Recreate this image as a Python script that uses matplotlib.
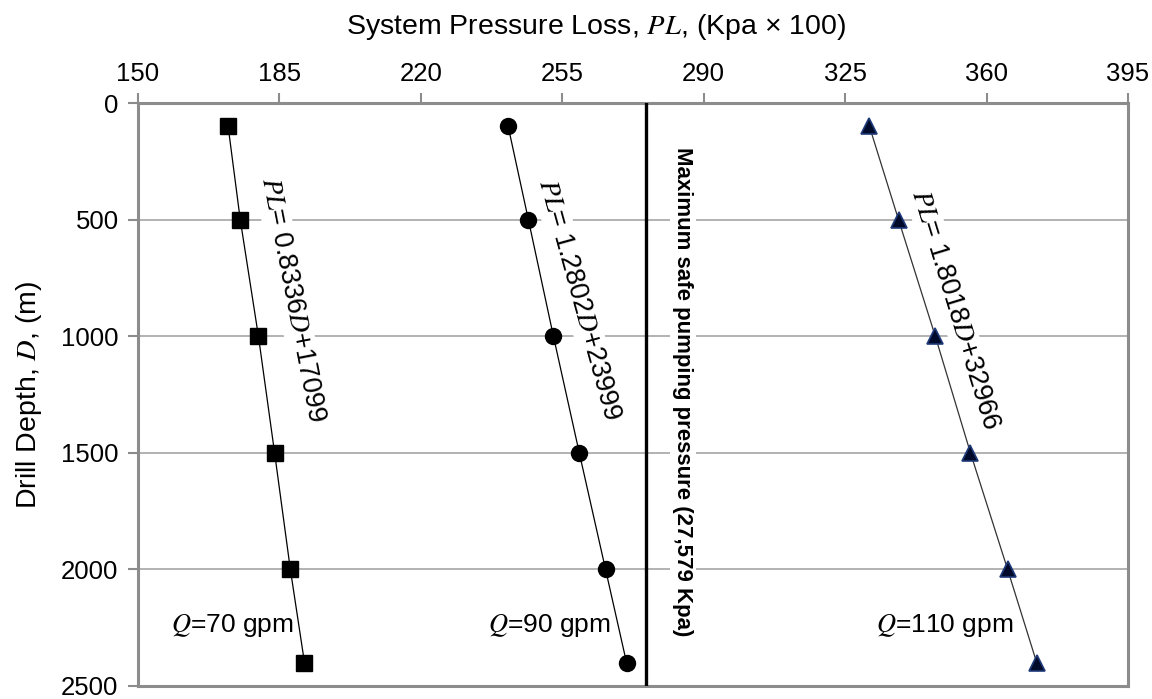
import matplotlib
matplotlib.use("Agg")
import matplotlib.pyplot as plt

plt.rcParams['font.family'] = ['Liberation Sans', 'DejaVu Sans']
plt.rcParams['mathtext.fontset'] = 'stix'

depth = [100, 500, 1000, 1500, 2000, 2400]
pl_q70 = [172.3, 175.3, 179.8, 183.8, 187.7, 191.2]
pl_q90 = [241.6, 246.6, 252.8, 259.2, 265.7, 270.9]
pl_q110 = [331.0, 338.2, 347.3, 356.0, 365.2, 372.4]
max_safe = 275.79

x_ticks = [150, 185, 220, 255, 290, 325, 360, 395]
y_ticks = [0, 500, 1000, 1500, 2000, 2500]

eq_labels = [r"$PL$= 0.8336$D$+17099", r"$PL$= 1.2802$D$+23999", r"$PL$= 1.8018$D$+32966"]
q_labels = [r"$Q$=70 gpm", r"$Q$=90 gpm", r"$Q$=110 gpm"]

fig = plt.figure(figsize=(11.52, 6.99), dpi=100)
ax = fig.add_axes([0.1198, 0.0186, 0.8594, 0.834])

grey = '#8c8c8c'
ax.set_xlim(150, 395)
ax.set_ylim(2500, 0)
ax.set_xticks(x_ticks)
ax.set_yticks(y_ticks)
ax.xaxis.tick_top()
ax.xaxis.set_label_position('top')
ax.tick_params(axis='both', labelsize=18.5, color=grey, width=1.5, length=7, direction='out')
ax.tick_params(axis='x', pad=5)
ax.tick_params(axis='y', pad=7)
for s in ax.spines.values():
    s.set_color(grey)
    s.set_linewidth(2.2)
ax.grid(axis='y', color='#a6a6a6', linewidth=1.2, zorder=0)
ax.set_axisbelow(True)

ax.plot(pl_q70, depth, color='black', lw=0.9, marker='s', ms=11.5, mfc='black', mec='black', zorder=4)
ax.plot(pl_q90, depth, color='black', lw=0.9, marker='o', ms=11.5, mfc='black', mec='black', zorder=4)
ax.plot(pl_q110, depth, color='#333333', lw=0.9, marker='^', ms=12, mfc='#000a2a', mec='#1f3a78', mew=1.2, zorder=4)

ax.axvline(max_safe, color='black', lw=2.4, zorder=5)

ax.set_xlabel(r"System Pressure Loss, $PL$, (Kpa × 100)", fontsize=20.5)
ax.xaxis.set_label_coords(0.463, 1.118)
ax.set_ylabel(r"Drill Depth, $D$, (m)", fontsize=20.5)
ax.yaxis.set_label_coords(-0.095, 0.5)

bbox = dict(facecolor='white', edgecolor='none', pad=1.5)
eq_pos = [(188.2, 845, -79), (259.2, 845, -74.5), (352.3, 888, -73)]
for (x, y, r), t in zip(eq_pos, eq_labels):
    ax.text(x, y, t, rotation=r, fontsize=19.5, ha='center', va='center',
            rotation_mode='anchor', bbox=bbox, zorder=3)

q_pos = [(188.5, 2240), (266.9, 2240), (366.5, 2240)]
for (x, y), t in zip(q_pos, q_labels):
    ax.text(x, y, t, fontsize=19, ha='right', va='center', zorder=3)

ax.text(284.8, 1239, "Maximum safe pumping pressure (27,579 Kpa)", rotation=-90,
        fontsize=16, fontweight='bold', ha='center', va='center',
        bbox=dict(facecolor='white', edgecolor='none', pad=2), zorder=3)

fig.savefig("out.png", dpi=100)
